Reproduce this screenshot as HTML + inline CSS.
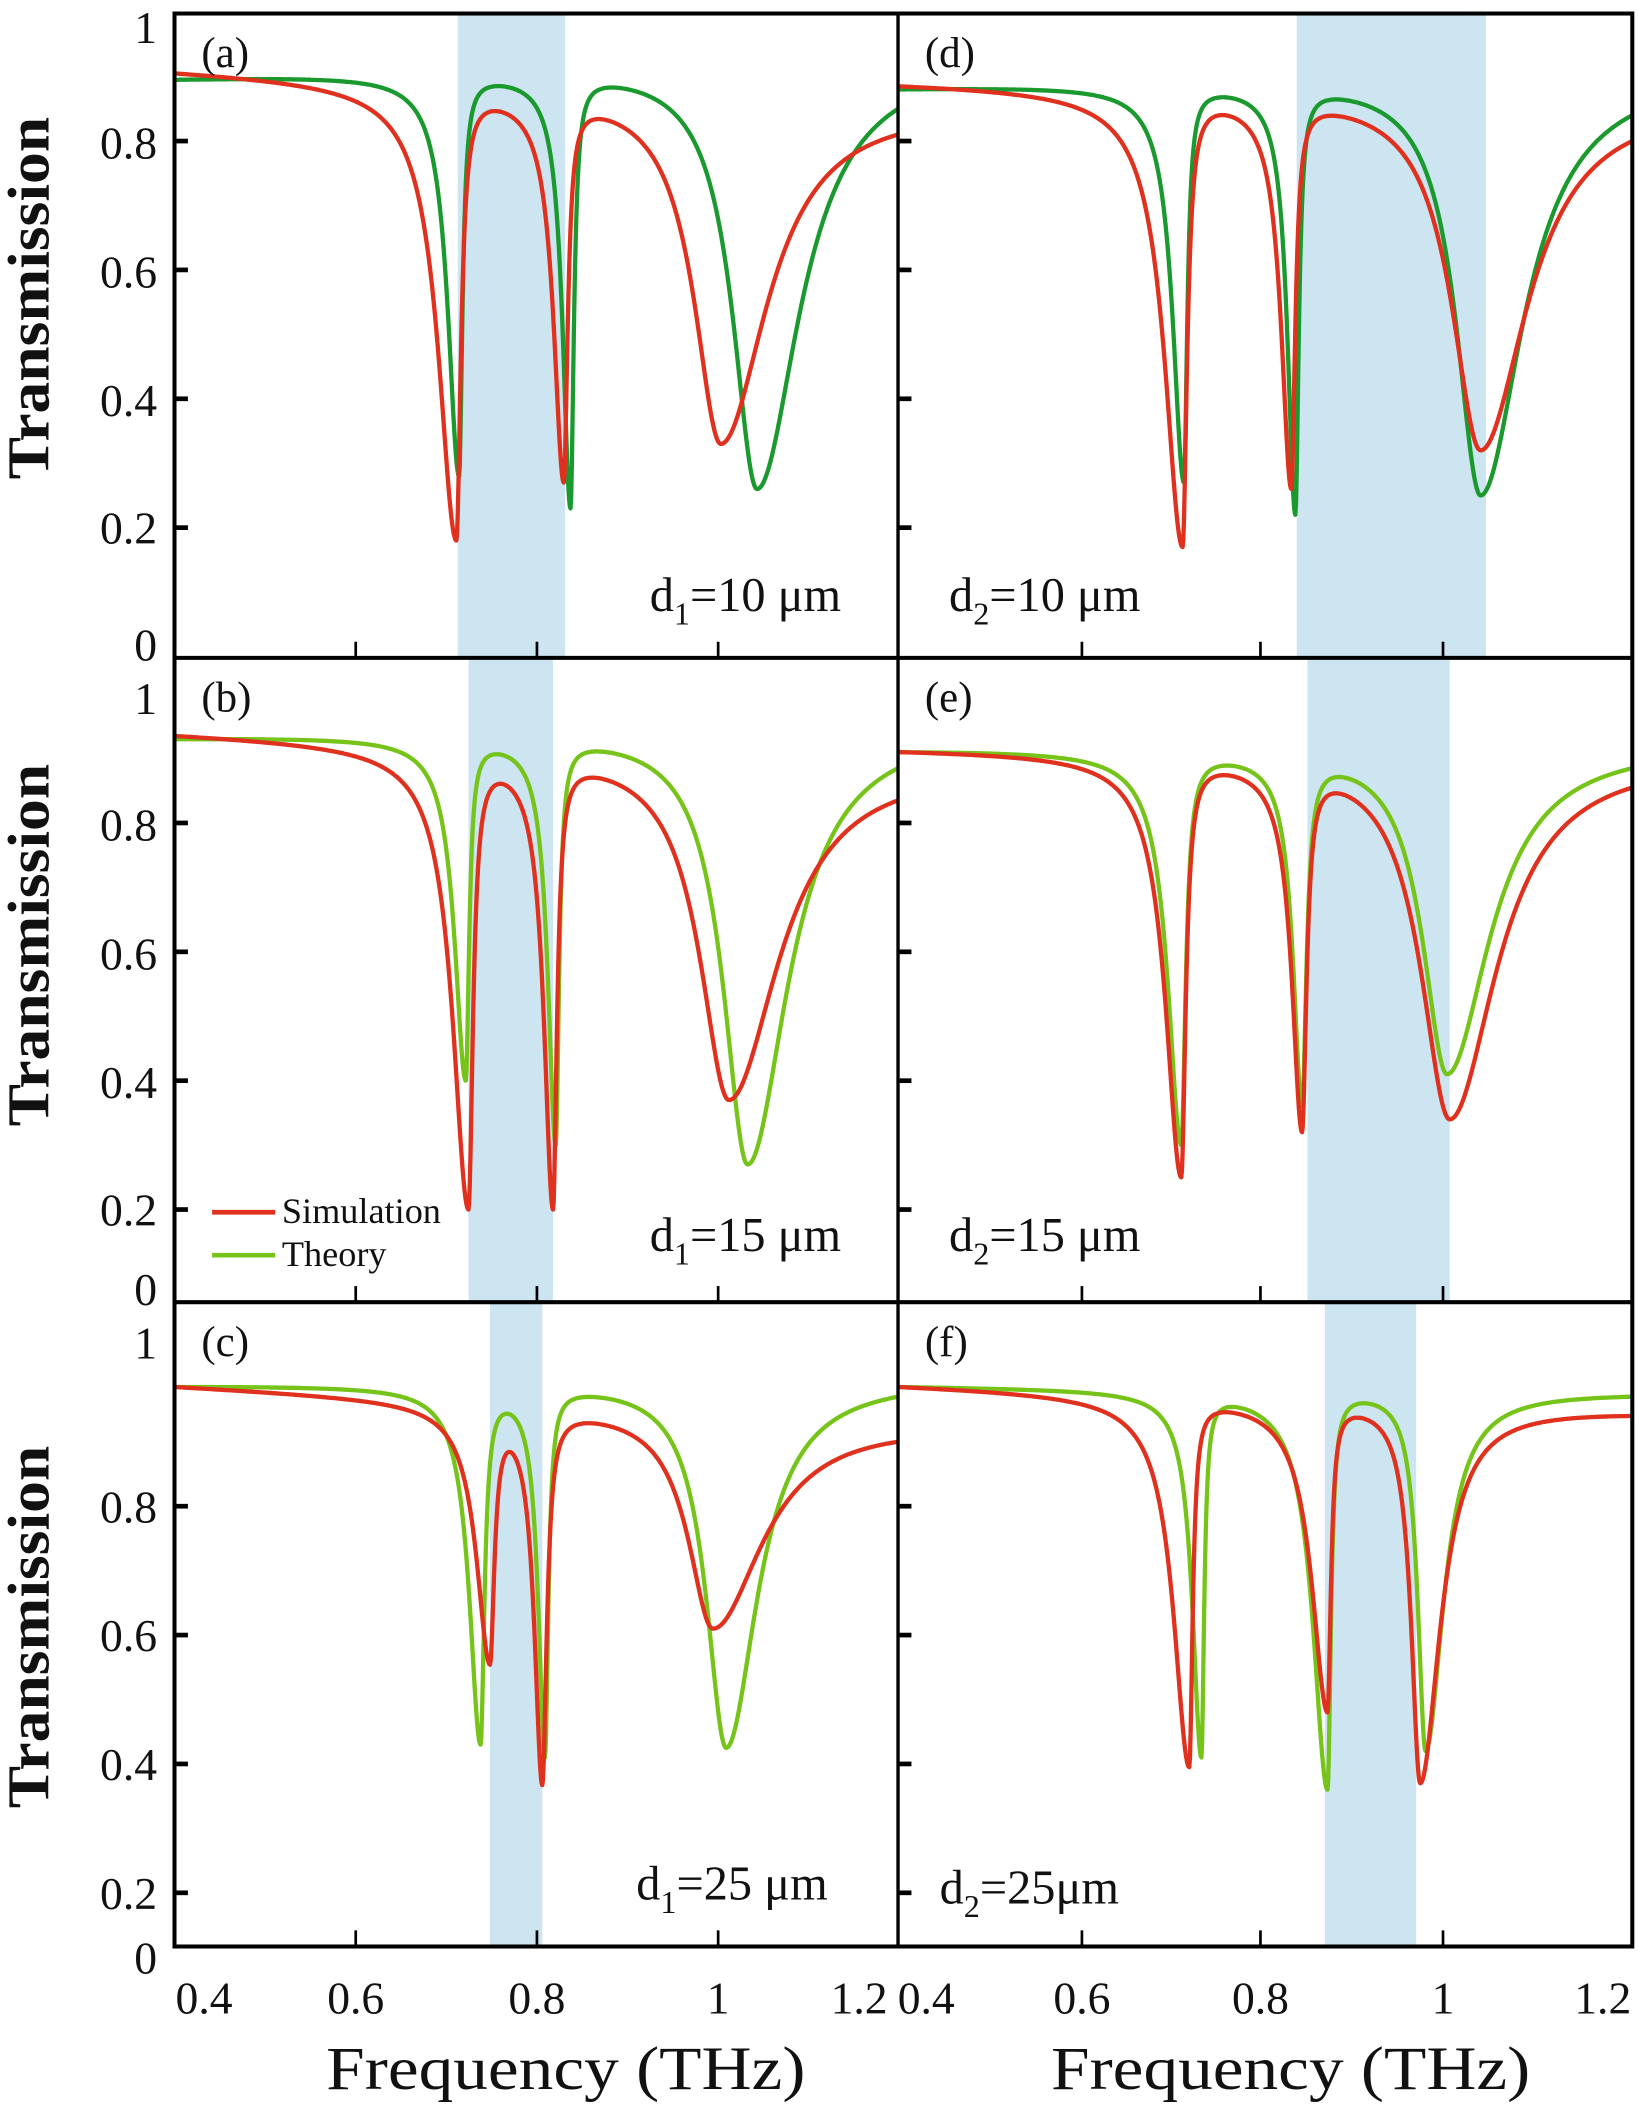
<!DOCTYPE html>
<html><head><meta charset="utf-8">
<style>
html,body{margin:0;padding:0;background:#fff;}
svg{display:block;}
svg text{font-family:"Liberation Serif","Times New Roman",serif;}
</style></head>
<body>
<svg id="s" width="1639" height="2105" viewBox="0 0 1221 1568" xmlns="http://www.w3.org/2000/svg">
<g id="shade"></g>
<g id="curves" fill="none" stroke-width="3.2" stroke-linejoin="round"></g>
<g id="axes" stroke="#000"></g>
<g id="txt" fill="#111"></g>
</svg>
<script>
var NS="http://www.w3.org/2000/svg";
var FF="'Liberation Serif', serif";
function el(p,t,a,txt){var e=document.createElementNS(NS,t);for(var k in a)e.setAttribute(k,a[k]);if(txt!==undefined)e.textContent=txt;document.getElementById(p).appendChild(e);return e;}
var RED="#e0301e",DG="#1a9a2e",LG="#76c41a",SH="#cde4f1";
var panels=[
 {x0:130,x1:669,yt:10,yb:490,z:489,sh:[341,421],lab:"(a)",red:{s:0.905,e:0.81,d:[[340,0.18,16,4],[420,0.27,9,3.5],[537,0.33,24,42]]},gr:{c:DG,s:0.895,e:0.85,d:[[342,0.28,10,3],[425,0.23,7,3],[564,0.26,22,38]]}},
 {x0:130,x1:669,yt:490,yb:970,z:997,sh:[349,412],lab:"(b)",red:{s:0.935,e:0.835,d:[[349,0.2,14,4],[412,0.2,8,3.5],[543,0.37,26,45]]},gr:{c:LG,s:0.93,e:0.885,d:[[347,0.4,10,3],[414,0.3,7,3],[557,0.27,22,36]]}},
 {x0:130,x1:669,yt:970,yb:1450,z:1506,sh:[365,404],lab:"(c)",red:{s:0.985,e:0.9,d:[[365,0.554,12,4],[404,0.367,7,4],[531,0.61,22,45]]},gr:{c:LG,s:0.985,e:0.97,d:[[358,0.43,10,3.5],[406,0.41,6,3],[541,0.425,18,28]]}},
 {x0:669,x1:1216,yt:10,yb:490,z:489,sh:[966,1107],lab:"(d)",red:{s:0.885,e:0.80,d:[[881,0.17,16,4],[962,0.26,9,3.5],[1103,0.32,26,42]]},gr:{c:DG,s:0.88,e:0.84,d:[[882,0.27,10,3],[965,0.22,7,3],[1103,0.25,22,38]]}},
 {x0:669,x1:1216,yt:490,yb:970,z:997,sh:[974,1080],lab:"(e)",red:{s:0.91,e:0.855,d:[[880,0.25,14,4],[970,0.32,9,4],[1080,0.34,26,42]]},gr:{c:LG,s:0.91,e:0.885,d:[[880,0.3,12,4],[970,0.36,8,4],[1078,0.41,22,38]]}},
 {x0:669,x1:1216,yt:970,yb:1450,z:1506,sh:[987,1055],lab:"(f)",red:{s:0.985,e:0.94,d:[[886,0.395,14,3],[989,0.48,14,3],[1058,0.37,8,18]]},gr:{c:LG,s:0.985,e:0.97,d:[[895,0.41,8,2.5],[989,0.36,13,3],[1062,0.42,7,16]]}}
];
function fac(d,a,x){var w=x<d[0]?d[2]:d[3];var u=(x-d[0])/w;return 1-a/(1+u*u);}
function build(c,p){
 var n=c.d.length,a=c.d.map(function(){return 0.5;});
 var B0=c.s,B1=c.e;
 for(var it=0;it<60;it++){
  var bl=function(x){return B0+(B1-B0)*(x-p.x0)/(p.x1-p.x0);};
  for(var i=0;i<n;i++){var pr=bl(c.d[i][0]);for(var j=0;j<n;j++)if(j!=i)pr*=fac(c.d[j],a[j],c.d[i][0]);a[i]=Math.min(0.995,Math.max(0,1-c.d[i][1]/pr));}
  var pl=1,pe=1;for(var j=0;j<n;j++){pl*=fac(c.d[j],a[j],p.x0);pe*=fac(c.d[j],a[j],p.x1);}
  B0=c.s/pl;B1=c.e/pe;
 }
 var s="";
 for(var x=p.x0;x<=p.x1;x+=0.5){var T=B0+(B1-B0)*(x-p.x0)/(p.x1-p.x0);for(var j=0;j<n;j++)T*=fac(c.d[j],a[j],x);var y=p.z-480*T;s+=(s?"L":"M")+x.toFixed(1)+" "+y.toFixed(1);}
 return s;
}
panels.forEach(function(p){
 el("shade","rect",{x:p.sh[0],y:p.yt,width:p.sh[1]-p.sh[0],height:p.yb-p.yt,fill:SH});
 el("curves","path",{d:build(p.gr,p),stroke:p.gr.c});
 el("curves","path",{d:build(p.red,p),stroke:RED});
 var xs=p.x0==130?[265,400,535]:[806,939,1075];
 xs.forEach(function(x){el("axes","line",{x1:x,y1:p.yb,x2:x,y2:p.yb-12,"stroke-width":2});});
 [0.2,0.4,0.6,0.8].forEach(function(t){var y=p.z-480*t;if(y>p.yt+5&&y<p.yb-5)el("axes","line",{x1:p.x0,y1:y,x2:p.x0+10,y2:y,"stroke-width":3.5});});
 el("txt","text",{x:p.x0+20,y:p.yt+40,"font-size":32,"font-family":FF},p.lab);
});
el("axes","rect",{x:130,y:10,width:1086,height:1440,fill:"none","stroke-width":3});
el("axes","line",{x1:669,y1:10,x2:669,y2:1450,"stroke-width":2.5});
el("axes","line",{x1:130,y1:490,x2:1216,y2:490,"stroke-width":3});
el("axes","line",{x1:130,y1:970,x2:1216,y2:970,"stroke-width":3});
var yl=[[20,"1"],[106,"0.8"],[202,"0.6"],[298,"0.4"],[393,"0.2"],[480,"0"],[520,"1"],[614,"0.8"],[710,"0.6"],[806,"0.4"],[901,"0.2"],[960,"0"],[1000,"1"],[1122,"0.8"],[1218,"0.6"],[1314,"0.4"],[1410,"0.2"],[1458,"0"]];
yl.forEach(function(v){el("txt","text",{x:117,y:v[0]+12,"font-size":34,"text-anchor":"end","font-family":FF},v[1]);});
[[152,"0.4"],[265,"0.6"],[400,"0.8"],[535,"1"],[640,"1.2"],[690,"0.4"],[806,"0.6"],[939,"0.8"],[1075,"1"],[1194,"1.2"]].forEach(function(v){el("txt","text",{x:v[0],y:1500,"font-size":34,"text-anchor":"middle","font-family":FF},v[1]);});
el("txt","text",{x:243,y:1556,"font-size":46,textLength:357,lengthAdjust:"spacingAndGlyphs","font-family":FF},"Frequency (THz)");
el("txt","text",{x:783,y:1556,"font-size":46,textLength:357,lengthAdjust:"spacingAndGlyphs","font-family":FF},"Frequency (THz)");
[222,704,1212].forEach(function(y){el("txt","text",{x:36,y:y,"font-size":44,"font-weight":"bold","text-anchor":"middle",textLength:270,lengthAdjust:"spacingAndGlyphs",transform:"rotate(-90 36 "+y+")","font-family":FF},"Transmission");});
function dl(x,y,sub,rest){var t=el("txt","text",{x:x,y:y,"font-size":36,"font-family":FF});var a=document.createElementNS(NS,"tspan");a.textContent="d";t.appendChild(a);var b=document.createElementNS(NS,"tspan");b.setAttribute("font-size","24");b.setAttribute("dy","10");b.textContent=sub;t.appendChild(b);var c=document.createElementNS(NS,"tspan");c.setAttribute("dy","-10");c.textContent=rest;t.appendChild(c);}
dl(484,455,"1","=10 μm");dl(707,455,"2","=10 μm");
dl(484,932,"1","=15 μm");dl(707,932,"2","=15 μm");
dl(474,1415,"1","=25 μm");dl(700,1418,"2","=25μm");
el("axes","line",{x1:158,y1:903,x2:205,y2:903,stroke:RED,"stroke-width":3.5});
el("axes","line",{x1:158,y1:935,x2:205,y2:935,stroke:LG,"stroke-width":3.5});
el("txt","text",{x:210,y:911,"font-size":27,"font-family":FF},"Simulation");
el("txt","text",{x:210,y:943,"font-size":27,"font-family":FF},"Theory");
</script>
</body></html>
